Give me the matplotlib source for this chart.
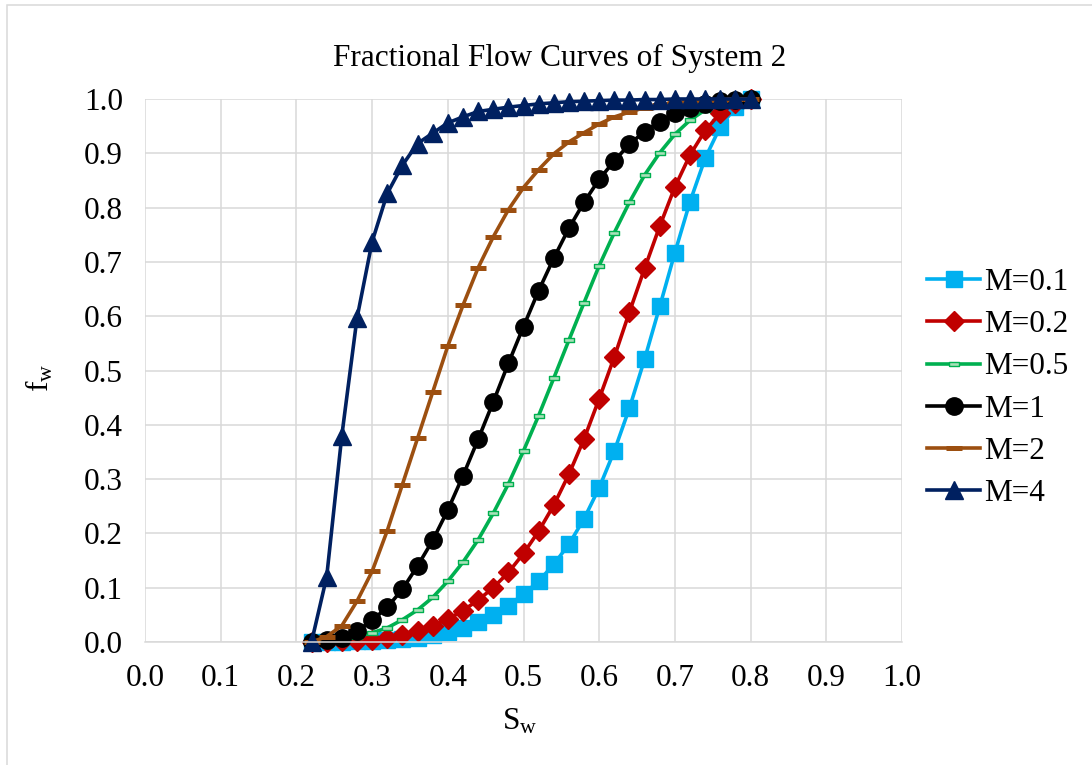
#!/usr/bin/env python3
# -*- coding: utf-8 -*-
"""Fractional flow curves of system 2 - recreated chart."""

import matplotlib
matplotlib.use('Agg')
import matplotlib.pyplot as plt
from matplotlib.patches import Rectangle

# water saturation
sw = [0.22, 0.24, 0.26, 0.28, 0.30, 0.32, 0.34, 0.36, 0.38, 0.40,
      0.42, 0.44, 0.46, 0.48, 0.50, 0.52, 0.54, 0.56, 0.58, 0.60,
      0.62, 0.64, 0.66, 0.68, 0.70, 0.72, 0.74, 0.76, 0.78, 0.80]

# fractional flow for each mobility ratio
fw_m01 = [0.0, 0.0, 0.0, 0.001, 0.002, 0.003, 0.005, 0.008, 0.012, 0.018,
          0.026, 0.037, 0.050, 0.067, 0.088, 0.112, 0.143, 0.180, 0.227, 0.284,
          0.352, 0.431, 0.521, 0.618, 0.717, 0.811, 0.891, 0.949, 0.985, 1.0]
fw_m02 = [0.0, 0.0, 0.001, 0.002, 0.004, 0.008, 0.013, 0.021, 0.030, 0.042,
          0.058, 0.077, 0.100, 0.128, 0.163, 0.204, 0.252, 0.309, 0.374, 0.448,
          0.525, 0.608, 0.688, 0.766, 0.838, 0.897, 0.942, 0.974, 0.993, 1.0]
fw_m05 = [0.0, 0.001, 0.004, 0.010, 0.017, 0.026, 0.041, 0.059, 0.082, 0.112,
          0.147, 0.188, 0.237, 0.291, 0.352, 0.417, 0.486, 0.556, 0.625, 0.693,
          0.754, 0.810, 0.860, 0.901, 0.935, 0.961, 0.980, 0.991, 0.997, 1.0]
fw_m1 = [0.0, 0.003, 0.008, 0.020, 0.040, 0.064, 0.097, 0.140, 0.187, 0.243,
         0.306, 0.373, 0.442, 0.513, 0.581, 0.647, 0.707, 0.762, 0.810, 0.852,
         0.886, 0.917, 0.940, 0.958, 0.974, 0.983, 0.991, 0.996, 0.999, 1.0]
fw_m2 = [0.0, 0.010, 0.030, 0.075, 0.130, 0.205, 0.290, 0.375, 0.460, 0.545,
         0.620, 0.689, 0.746, 0.796, 0.837, 0.870, 0.899, 0.921, 0.938, 0.954,
         0.967, 0.976, 0.984, 0.989, 0.993, 0.996, 0.998, 0.999, 1.0, 1.0]
fw_m4 = [0.0, 0.120, 0.380, 0.596, 0.737, 0.826, 0.878, 0.918, 0.937, 0.956,
         0.967, 0.977, 0.981, 0.985, 0.988, 0.991, 0.993, 0.995, 0.996, 0.997,
         0.998, 0.998, 0.999, 0.999, 1.0, 1.0, 1.0, 1.0, 1.0, 1.0]

labels = ['M=0.1', 'M=0.2', 'M=0.5', 'M=1', 'M=2', 'M=4']

plt.rcParams['font.family'] = ['Liberation Serif', 'DejaVu Serif']
plt.rcParams['mathtext.fontset'] = 'custom'
plt.rcParams['mathtext.rm'] = 'Liberation Serif'
plt.rcParams['mathtext.it'] = 'Liberation Serif:italic'

FS = 22.5
LW = 2.6
GRID = '#D9D9D9'

# small flat rectangle marker for M=0.5
rect_marker = [(-1.0, -0.45), (1.0, -0.45), (1.0, 0.45), (-1.0, 0.45), (-1.0, -0.45)]

styles = [
    dict(color='#00B0F0', marker='s', ms=11.5, mfc='#00B0F0', mec='#00B0F0'),
    dict(color='#C00000', marker='D', ms=10, mfc='#C00000', mec='#C00000'),
    dict(color='#00B050', marker=rect_marker, ms=6.5, mfc='#A8E0B8', mec='#00B050', mew=1.0),
    dict(color='#000000', marker='o', ms=12.5, mfc='#000000', mec='#000000'),
    dict(color='#9C4F10', marker='_', ms=12, mec='#9C4F10', mew=3.6),
    dict(color='#002060', marker='^', ms=13, mfc='#002060', mec='#002060'),
]
series = [fw_m01, fw_m02, fw_m05, fw_m1, fw_m2, fw_m4]

fig = plt.figure(figsize=(10.92, 7.65), dpi=100)
ax = fig.add_axes([145 / 1092, 1 - 642 / 765, (902 - 145) / 1092, (642 - 99) / 765])

for fw, lab, st in zip(series, labels, styles):
    ax.plot(sw, fw, lw=LW, label=lab, clip_on=False, **st)

ax.set_xlim(0, 1.0)
ax.set_ylim(0, 1.0)
ax.set_xticks([i / 10 for i in range(11)])
ax.set_yticks([i / 10 for i in range(11)])
ax.set_xticklabels(['%.1f' % (i / 10) for i in range(11)])
ax.set_yticklabels(['%.1f' % (i / 10) for i in range(11)])
ax.tick_params(length=0, labelsize=FS, pad=16)
ax.grid(True, color=GRID, lw=1.1)
ax.set_axisbelow(True)
for s in ['top', 'right', 'left']:
    ax.spines[s].set_visible(False)
ax.spines['bottom'].set_color(GRID)
ax.spines['bottom'].set_linewidth(1.1)

# title is centred on the whole chart area, not on the plot area
fig.text(560 / 1092, 1 - 58 / 765, 'Fractional Flow Curves of System 2',
         fontsize=FS, ha='center', va='center')
fig.text(520 / 1092, 1 - 722 / 765, r'$\mathregular{S_w}$', fontsize=FS,
         ha='center', va='center')
fig.text(40 / 1092, 1 - 378 / 765, r'$\mathregular{f_w}$', fontsize=FS,
         ha='center', va='center', rotation=90)

ax.legend(loc='center left', bbox_to_anchor=(927 / 1092, 1 - 388 / 765),
          bbox_transform=fig.transFigure, frameon=False, fontsize=FS,
          handlelength=1.7, handletextpad=0.12, labelspacing=0.42,
          borderpad=0, borderaxespad=0)

# light outer chart border
fig.patches.append(Rectangle((7 / 1092, -0.05), 1.1, 1 - 5 / 765 + 0.05,
                             transform=fig.transFigure, fill=False,
                             edgecolor='#D9D9D9', lw=1.1))

fig.savefig('out.png', dpi=100)
